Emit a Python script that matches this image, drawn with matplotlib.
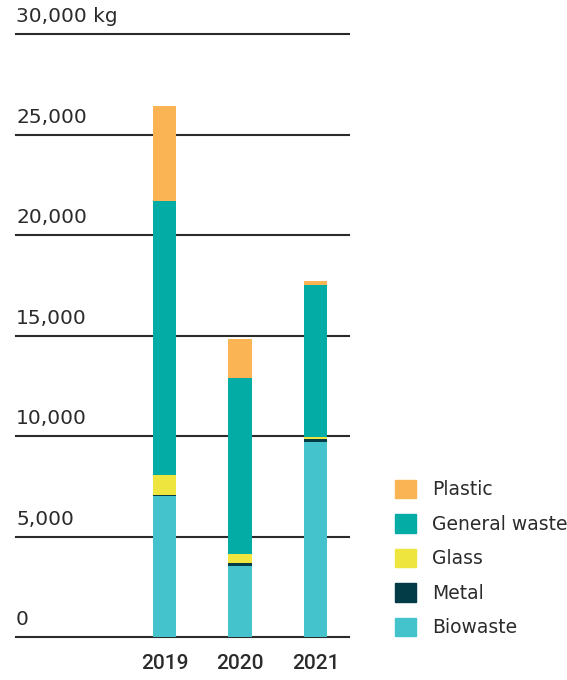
import numpy as np
import matplotlib.pyplot as plt
from matplotlib.patches import Patch
from matplotlib.transforms import blended_transform_factory, offset_copy

plt.rcParams['font.family'] = ['DejaVu Sans']

years = ["2019", "2020", "2021"]
categories = ["Biowaste", "Metal", "Glass", "General waste", "Plastic"]
biowaste = [7000, 3530, 9700]
metal = [60, 150, 150]
glass = [1000, 450, 100]
general_waste = [13630, 8760, 7560]
plastic = [4730, 1940, 200]
yticks = [0, 5000, 10000, 15000, 20000, 25000, 30000]
ytick_labels = ["0", "5,000", "10,000", "15,000", "20,000", "25,000", "30,000 kg"]

colors = {
    "Biowaste": "#45c3cd",
    "Metal": "#033c47",
    "Glass": "#eee63f",
    "General waste": "#03ada5",
    "Plastic": "#fbb454",
}
ink = "#2b2b2b"

fig = plt.figure(figsize=(5.67, 6.8), dpi=100)
ax = fig.add_axes([16 / 567, 1 - 637 / 680, 333 / 567, 603 / 680])

x = np.arange(len(years))
series = [biowaste, metal, glass, general_waste, plastic]
bottom = np.zeros(len(years))
for name, vals in zip(categories, series):
    ax.bar(x, vals, width=0.305, bottom=bottom, color=colors[name], zorder=3)
    bottom += np.array(vals)

for v in yticks:
    ax.axhline(v, color=ink, lw=1.5, zorder=2, clip_on=False)

# value labels sit just above each gridline, flush left
trans = blended_transform_factory(ax.transAxes, ax.transData)
trans = offset_copy(trans, fig=fig, x=0, y=5.5, units="points")
for v, lab in zip(yticks, ytick_labels):
    ax.text(0, v, lab, transform=trans, ha="left", va="bottom",
            fontsize=14.5, color=ink)

ax.set_xlim(-1.967, 2.444)
ax.set_ylim(0, 30000)
ax.set_yticks([])
ax.set_xticks(x)
ax.set_xticklabels(years, fontsize=15, fontweight="medium", color=ink,
                   family=["Roboto", "DejaVu Sans"])
ax.tick_params(axis="x", length=0, pad=12)
for s in ax.spines.values():
    s.set_visible(False)

handles = [Patch(color=colors[c]) for c in categories[::-1]]
fig.legend(handles, categories[::-1], loc="upper left",
           bbox_to_anchor=(378 / 567, 1 - 463 / 680), frameon=False,
           fontsize=13.5, handlelength=1.12, handleheight=1.12,
           handletextpad=0.85, labelspacing=0.8, labelcolor=ink)

fig.savefig("out.png", dpi=100)
